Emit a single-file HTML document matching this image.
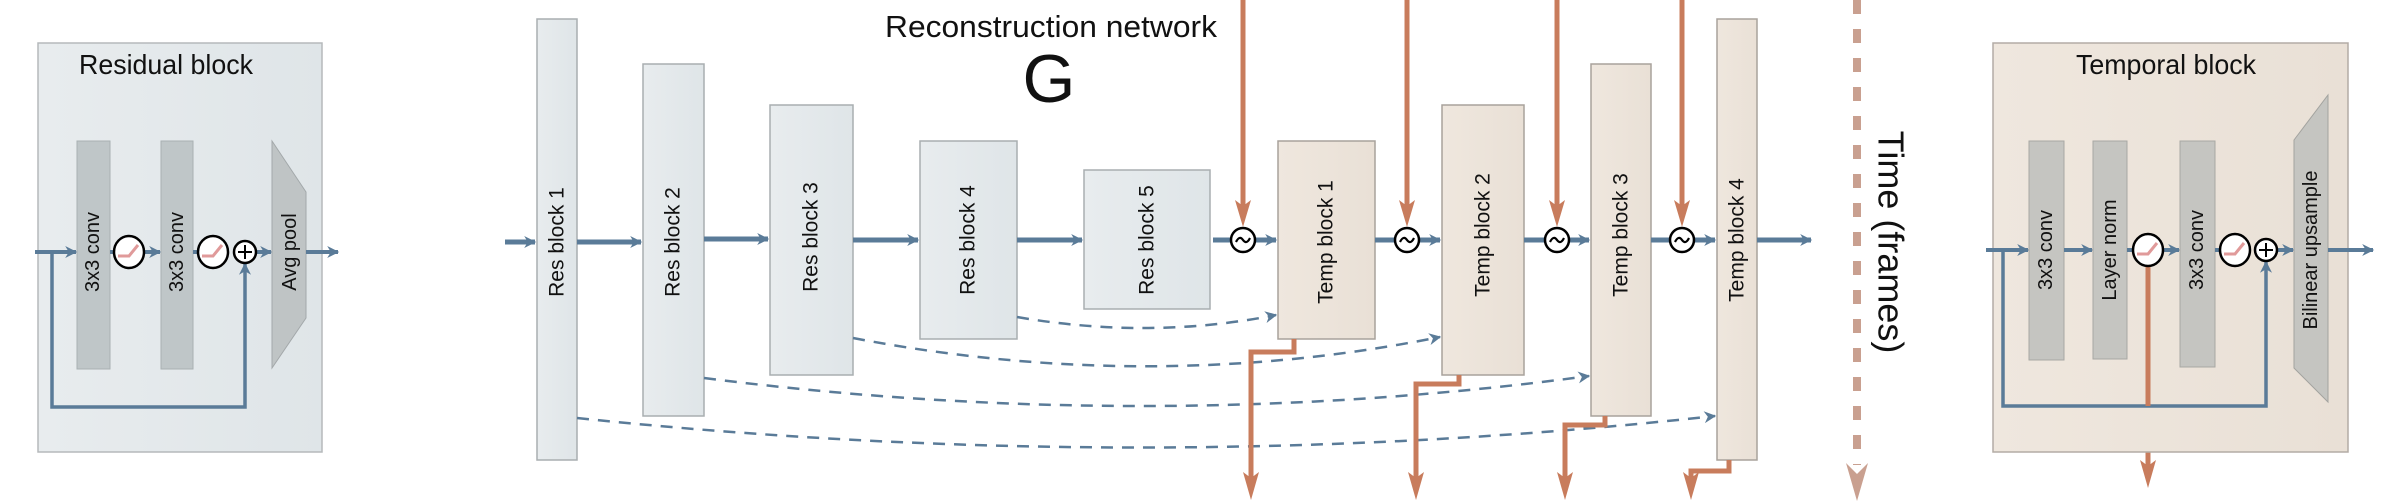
<!DOCTYPE html>
<html><head><meta charset="utf-8"><style>
html,body{margin:0;padding:0;background:#fff;}
svg{display:block;}
text{font-family:"Liberation Sans",sans-serif;fill:#111;}
</style></head><body>
<svg width="2401" height="503" viewBox="0 0 2401 503" xmlns="http://www.w3.org/2000/svg">
<defs>
<linearGradient id="gb" x1="0" x2="1"><stop offset="0" stop-color="#e8ecee"/><stop offset="1" stop-color="#dfe5e8"/></linearGradient>
<linearGradient id="gt" x1="0" x2="1"><stop offset="0" stop-color="#efe7de"/><stop offset="1" stop-color="#e9e0d6"/></linearGradient>
<marker id="abd" viewBox="0 0 10 10" refX="9" refY="5" markerWidth="14" markerHeight="12" markerUnits="userSpaceOnUse" orient="auto"><path d="M0,0 L10,5 L0,10 L3,5z" fill="#5a7b98"/></marker>
</defs>

<!-- Residual block detail -->
<rect x="38" y="43" width="284" height="409" fill="url(#gb)" stroke="#b5b9bb" stroke-width="1.5"/>
<text x="166" y="74" font-size="28" text-anchor="middle" textLength="174" lengthAdjust="spacingAndGlyphs">Residual block</text>
<rect x="77" y="141" width="33" height="228" fill="#bfc6c8" stroke="#a9b0b2"/>
<rect x="161" y="141" width="32" height="228" fill="#bfc6c8" stroke="#a9b0b2"/>
<polygon points="272,141 306,192 306,318 272,368" fill="#bfc4c5" stroke="#a3a8aa"/>
<text transform="translate(93,252) rotate(-90)" font-size="20" text-anchor="middle" dominant-baseline="central">3x3 conv</text>
<text transform="translate(177,252) rotate(-90)" font-size="20" text-anchor="middle" dominant-baseline="central">3x3 conv</text>
<text transform="translate(290,252) rotate(-90)" font-size="20" text-anchor="middle" dominant-baseline="central">Avg pool</text>
<g stroke="#5a7b98" stroke-width="4" fill="none">
<line x1="35" y1="252" x2="76" y2="252" marker-end="url(#abd)"/>
<line x1="110" y1="252" x2="113" y2="252"/>
<line x1="145" y1="252" x2="160" y2="252" marker-end="url(#abd)"/>
<line x1="193" y1="252" x2="197" y2="252"/>
<line x1="256" y1="252" x2="271" y2="252" marker-end="url(#abd)"/>
<line x1="306" y1="252" x2="338" y2="252" marker-end="url(#abd)"/>
<polyline points="52,252 52,407 245,407 245,264" stroke-width="3.5" marker-end="url(#abd)"/>
</g>
<g stroke="#000" stroke-width="2.5" fill="#fff">
<ellipse cx="129" cy="252" rx="15" ry="16"/><ellipse cx="213" cy="252" rx="15" ry="16"/><circle cx="245" cy="252" r="11"/>
</g>
<polyline points="118,256 129,256 138,245" stroke="#e09a9a" stroke-width="3" fill="none"/>
<polyline points="202,256 213,256 222,245" stroke="#e09a9a" stroke-width="3" fill="none"/>
<path d="M238,252 H252 M245,245 V259" stroke="#000" stroke-width="2"/>

<!-- Network title -->
<text x="1051" y="37" font-size="31" text-anchor="middle" textLength="332" lengthAdjust="spacingAndGlyphs">Reconstruction network</text>
<text x="1049" y="102" font-size="68" text-anchor="middle">G</text>

<!-- Res blocks -->
<g fill="url(#gb)" stroke="#a9aeb0" stroke-width="1.5">
<rect x="537" y="19" width="40" height="441"/>
<rect x="643" y="64" width="61" height="352"/>
<rect x="770" y="105" width="83" height="270"/>
<rect x="920" y="141" width="97" height="198"/>
<rect x="1084" y="170" width="126" height="139"/>
</g>
<g fill="url(#gt)" stroke="#a8a29c" stroke-width="1.5">
<rect x="1278" y="141" width="97" height="198"/>
<rect x="1442" y="105" width="82" height="270"/>
<rect x="1591" y="64" width="60" height="352"/>
<rect x="1717" y="19" width="40" height="441"/>
</g>
<g font-size="21" text-anchor="middle" dominant-baseline="central">
<text transform="translate(557,242) rotate(-90)">Res block 1</text>
<text transform="translate(673,242) rotate(-90)">Res block 2</text>
<text transform="translate(811,237) rotate(-90)">Res block 3</text>
<text transform="translate(968,240) rotate(-90)">Res block 4</text>
<text transform="translate(1147,240) rotate(-90)">Res block 5</text>
<text transform="translate(1326,242) rotate(-90)">Temp block 1</text>
<text transform="translate(1483,235) rotate(-90)">Temp block 2</text>
<text transform="translate(1621,235) rotate(-90)">Temp block 3</text>
<text transform="translate(1737,240) rotate(-90)">Temp block 4</text>
</g>

<!-- main flow -->
<g stroke="#5a7b98" stroke-width="5" fill="none">
<line x1="505" y1="242" x2="535" y2="242" marker-end="url(#abd)"/>
<line x1="577" y1="242" x2="641" y2="242" marker-end="url(#abd)"/>
<line x1="704" y1="239" x2="768" y2="239" marker-end="url(#abd)"/>
<line x1="853" y1="240" x2="918" y2="240" marker-end="url(#abd)"/>
<line x1="1017" y1="240" x2="1082" y2="240" marker-end="url(#abd)"/>
<line x1="1213" y1="240" x2="1231" y2="240"/>
<line x1="1255" y1="240" x2="1276" y2="240" marker-end="url(#abd)"/>
<line x1="1375" y1="240" x2="1395" y2="240"/>
<line x1="1419" y1="240" x2="1440" y2="240" marker-end="url(#abd)"/>
<line x1="1524" y1="240" x2="1545" y2="240"/>
<line x1="1569" y1="240" x2="1589" y2="240" marker-end="url(#abd)"/>
<line x1="1651" y1="240" x2="1670" y2="240"/>
<line x1="1694" y1="240" x2="1715" y2="240" marker-end="url(#abd)"/>
<line x1="1757" y1="240" x2="1811" y2="240" marker-end="url(#abd)"/>
</g>
<!-- dashed skips -->
<g stroke="#5a7b98" stroke-width="2.5" fill="none" stroke-dasharray="12,9">
<path d="M1017,317 Q1150,340 1276,315" marker-end="url(#abd)"/>
<path d="M853,338 Q1150,395 1440,337" marker-end="url(#abd)"/>
<path d="M704,378 Q1150,435 1589,376" marker-end="url(#abd)"/>
<path d="M577,418 Q1150,478 1715,416" marker-end="url(#abd)"/>
</g>
<!-- orange -->
<g stroke="#c87c5c" stroke-width="5" fill="none">
<line x1="1243" y1="0" x2="1243" y2="210"/>
<line x1="1407" y1="0" x2="1407" y2="210"/>
<line x1="1557" y1="0" x2="1557" y2="210"/>
<line x1="1682" y1="0" x2="1682" y2="210"/>
<polyline points="1294,339 1294,352 1251,352 1251,480"/>
<polyline points="1459,375 1459,384 1416,384 1416,480"/>
<polyline points="1605,416 1605,425 1565,425 1565,480"/>
<polyline points="1729,460 1729,471 1691,471 1691,480"/>
<line x1="2148" y1="268" x2="2148" y2="468"/>
</g>
<g fill="#c87c5c">
<path d="M1235,200 L1243,227 L1251,200 L1243,206z"/>
<path d="M1399,200 L1407,227 L1415,200 L1407,206z"/>
<path d="M1549,200 L1557,227 L1565,200 L1557,206z"/>
<path d="M1674,200 L1682,227 L1690,200 L1682,206z"/>
<path d="M1243,472 L1251,500 L1259,472 L1251,478z"/>
<path d="M1408,472 L1416,500 L1424,472 L1416,478z"/>
<path d="M1557,472 L1565,500 L1573,472 L1565,478z"/>
<path d="M1683,472 L1691,500 L1699,472 L1691,478z"/>
<path d="M2140,460 L2148,488 L2156,460 L2148,466z"/>
</g>
<g stroke="#000" stroke-width="2.5" fill="#fff">
<circle cx="1243" cy="240" r="12"/><circle cx="1407" cy="240" r="12"/><circle cx="1557" cy="240" r="12"/><circle cx="1682" cy="240" r="12"/>
</g>
<g stroke="#000" stroke-width="2.2" fill="none">
<path d="M1236,242 Q1239.5,235 1243,240 Q1246.5,245 1250,238"/>
<path d="M1400,242 Q1403.5,235 1407,240 Q1410.5,245 1414,238"/>
<path d="M1550,242 Q1553.5,235 1557,240 Q1560.5,245 1564,238"/>
<path d="M1675,242 Q1678.5,235 1682,240 Q1685.5,245 1689,238"/>
</g>

<!-- Time axis -->
<line x1="1857" y1="0" x2="1857" y2="465" stroke="#c9a090" stroke-width="8" stroke-dasharray="14,15"/>
<path d="M1846,463 L1857,501 L1868,463 L1857,474z" fill="#c9a090"/>
<text transform="translate(1891,242) rotate(90)" font-size="36" text-anchor="middle" dominant-baseline="central">Time (frames)</text>

<!-- Temporal block detail -->
<rect x="1993" y="43" width="355" height="409" fill="url(#gt)" stroke="#b3aca5" stroke-width="1.5"/>
<text x="2166" y="74" font-size="28" text-anchor="middle" textLength="180" lengthAdjust="spacingAndGlyphs">Temporal block</text>
<rect x="2029" y="141" width="35" height="219" fill="#c5c5c1" stroke="#a8a8a4"/>
<rect x="2093" y="141" width="34" height="218" fill="#c5c5c1" stroke="#a8a8a4"/>
<rect x="2180" y="141" width="35" height="226" fill="#c5c5c1" stroke="#a8a8a4"/>
<polygon points="2294,140 2328,95 2328,402 2294,368" fill="#c5c5c1" stroke="#a3a39f"/>
<g font-size="20" text-anchor="middle" dominant-baseline="central">
<text transform="translate(2046,250) rotate(-90)">3x3 conv</text>
<text transform="translate(2110,250) rotate(-90)">Layer norm</text>
<text transform="translate(2197,250) rotate(-90)">3x3 conv</text>
<text transform="translate(2311,250) rotate(-90)">Bilinear upsample</text>
</g>
<g stroke="#5a7b98" stroke-width="4" fill="none">
<line x1="1986" y1="250" x2="2028" y2="250" marker-end="url(#abd)"/>
<line x1="2064" y1="250" x2="2092" y2="250" marker-end="url(#abd)"/>
<line x1="2127" y1="250" x2="2133" y2="250"/>
<line x1="2163" y1="250" x2="2179" y2="250" marker-end="url(#abd)"/>
<line x1="2215" y1="250" x2="2220" y2="250"/>
<line x1="2277" y1="250" x2="2293" y2="250" marker-end="url(#abd)"/>
<line x1="2328" y1="250" x2="2373" y2="250" marker-end="url(#abd)"/>
<polyline points="2003,250 2003,406 2266,406 2266,262" stroke-width="3.5" marker-end="url(#abd)"/>
</g>
<line x1="2148" y1="266" x2="2148" y2="406" stroke="#c87c5c" stroke-width="5"/>
<g stroke="#000" stroke-width="2.5" fill="#fff">
<ellipse cx="2148" cy="250" rx="15" ry="16"/><ellipse cx="2235" cy="250" rx="15" ry="16"/><circle cx="2266" cy="250" r="11"/>
</g>
<polyline points="2137,254 2148,254 2157,243" stroke="#e09a9a" stroke-width="3" fill="none"/>
<polyline points="2224,254 2235,254 2244,243" stroke="#e09a9a" stroke-width="3" fill="none"/>
<path d="M2259,250 H2273 M2266,243 V257" stroke="#000" stroke-width="2"/>
</svg>
</body></html>
